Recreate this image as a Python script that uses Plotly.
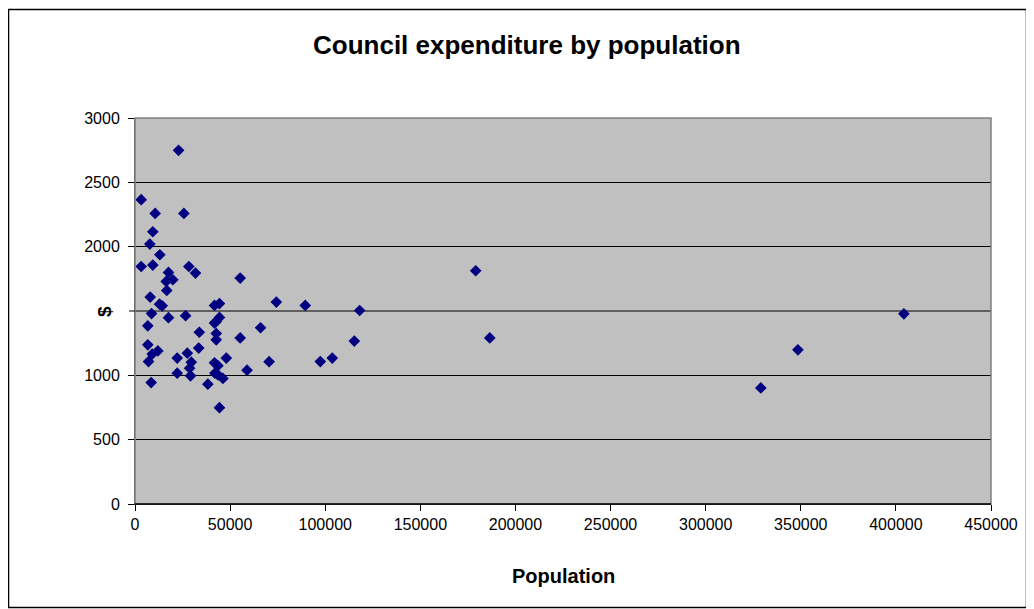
import plotly.graph_objects as go

population = [3260, 10600, 25700, 22900, 9370, 7790, 13050, 3260, 9370, 28300,
              31800, 17600, 19900, 16400, 16700, 55300, 8000, 12900, 14300, 41800,
              44400, 74300, 8700, 17600, 26600, 6730, 44400, 42700, 41800, 33800,
              42700, 42700, 55300, 66000, 6730, 12000, 9050, 7100, 22200, 27500,
              33500, 29600, 28700, 41800, 43600, 48000, 22200, 29200, 42000, 43600,
              46200, 58900, 70500, 8500, 38300, 44400, 89500, 118100, 115300, 97400,
              103700, 179100, 186500, 329000, 348500, 404200]
expenditure = [2365, 2258, 2258, 2749, 2116, 2020, 1937, 1846, 1857, 1846,
               1795, 1800, 1743, 1730, 1660, 1756, 1608, 1553, 1540, 1543,
               1558, 1569, 1480, 1448, 1464, 1385, 1450, 1418, 1406, 1335,
               1325, 1276, 1291, 1370, 1237, 1190, 1165, 1107, 1134, 1172,
               1212, 1102, 1056, 1097, 1075, 1134, 1017, 996, 1017, 1004,
               976, 1040, 1106, 944, 931, 749, 1543, 1504, 1266, 1107,
               1134, 1813, 1291, 902, 1198, 1478]

# 1500 label is hidden behind the "$" axis title in the original
y_tickvals = [0, 500, 1000, 2000, 2500, 3000]
y_ticktext = ["0", "500", "1000", "2000", "2500", "3000"]
y_unlabelled = [1500]

OFF = 8  # page body margin
W, H = 1034 - OFF, 609 - OFF
L, R, T, B = 135 - OFF, 991 - OFF, 118 - OFF, 504 - OFF  # plot area in px
pw, ph = R - L, B - T

def px_x(p):
    return (p - OFF - L) / pw

def px_y(p):
    return (B - (p - OFF)) / ph

fig = go.Figure()
fig.add_trace(go.Scatter(
    x=population, y=expenditure, mode="markers",
    marker=dict(symbol="diamond", size=9, color="#000080",
                line=dict(width=0)),
    hoverinfo="x+y", showlegend=False,
))

font = "Liberation Sans, Arial, sans-serif"
shapes = [
    dict(type="rect", xref="paper", yref="paper", x0=0, x1=1, y0=0, y1=1,
         line=dict(color="#808080", width=1.5), layer="above"),
    dict(type="line", xref="paper", yref="paper", x0=0, x1=1, y0=0, y1=0,
         line=dict(color="black", width=1.5), layer="above"),
    dict(type="rect", xref="paper", yref="paper",
         x0=px_x(8.5), x1=px_x(1026.5), y0=px_y(9.5), y1=px_y(607.5),
         line=dict(color="black", width=1.5), layer="above"),
]
for v in y_unlabelled:
    shapes.append(dict(type="line", xref="paper", yref="y", x0=0, x1=1, y0=v, y1=v,
                       line=dict(color="black", width=1), layer="below"))
    shapes.append(dict(type="line", xref="paper", yref="y", x0=px_x(129), x1=0,
                       y0=v, y1=v, line=dict(color="black", width=1), layer="above"))

fig.update_layout(
    width=W, height=H,
    margin=dict(l=L, r=W - R, t=T, b=H - B, pad=0),
    paper_bgcolor="white",
    plot_bgcolor="#C0C0C0",
    font=dict(family=font, size=16, color="black"),
    xaxis=dict(range=[0, 450000], dtick=50000, tick0=0, tickformat="d",
               showgrid=False, zeroline=False, ticks="outside", ticklen=6,
               tickcolor="black", showline=True, linecolor="black", linewidth=1,
               tickfont=dict(size=16, family=font), fixedrange=True),
    yaxis=dict(range=[0, 3000], tickmode="array", tickvals=y_tickvals,
               ticktext=y_ticktext,
               showgrid=True, gridcolor="black", gridwidth=1, zeroline=False,
               ticks="outside", ticklen=6, tickcolor="black", showline=True,
               linecolor="#404040", linewidth=1, ticklabelstandoff=5,
               tickfont=dict(size=16, family=font), fixedrange=True),
    shapes=shapes,
    annotations=[
        dict(text="<b>Council expenditure by population</b>", xref="paper", yref="paper",
             x=px_x(527), y=px_y(45), xanchor="center", yanchor="middle",
             showarrow=False, font=dict(size=26, family=font)),
        dict(text="<b>Population</b>", xref="paper", yref="paper",
             x=px_x(563), y=px_y(576), xanchor="center", yanchor="middle",
             showarrow=False, font=dict(size=20, family=font)),
        dict(text="<b>$</b>", xref="paper", yref="paper",
             x=px_x(104), y=px_y(312), xanchor="center", yanchor="middle",
             showarrow=False, textangle=-90, font=dict(size=19, family=font)),
    ],
)

fig.write_html("out.html")
